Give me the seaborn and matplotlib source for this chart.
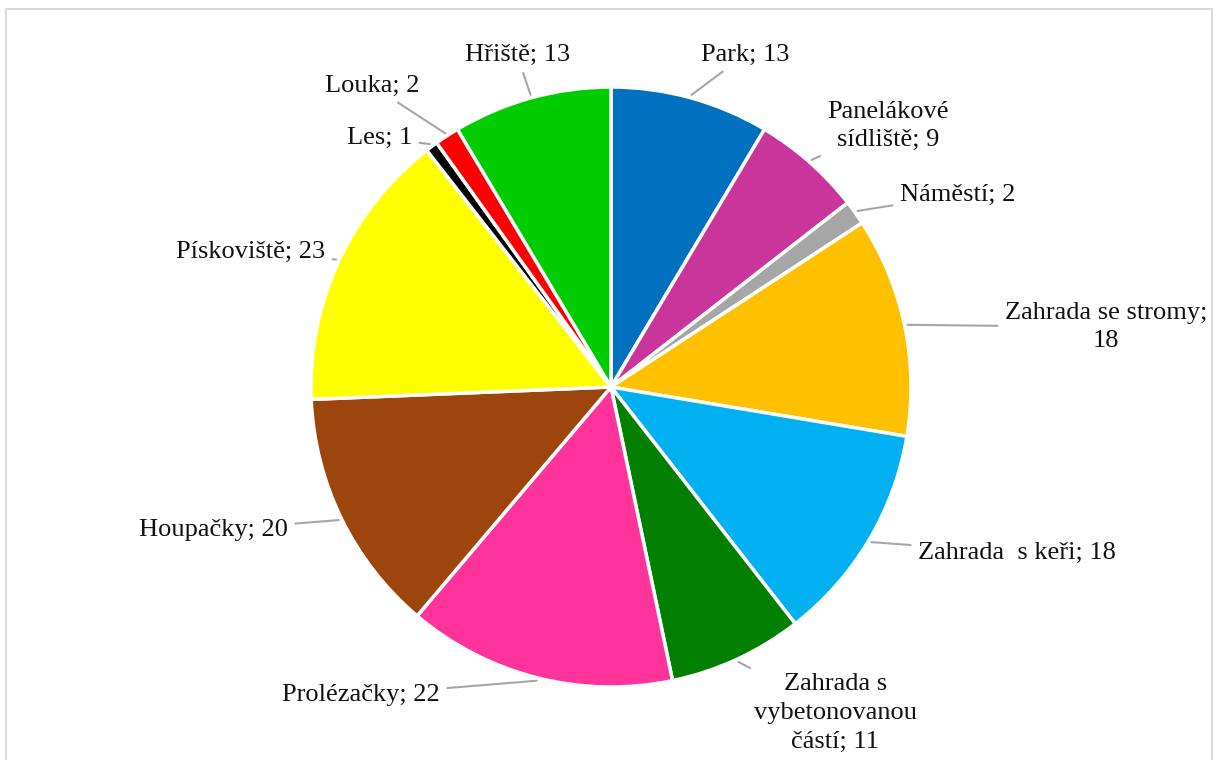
import numpy as np
import matplotlib
matplotlib.use("Agg")
import matplotlib.pyplot as plt
import matplotlib.patches as mpatches
import seaborn as sns

# data
labels = ["Park", "Panelákové\nsídliště", "Náměstí", "Zahrada se stromy;\n", "Zahrada  s keři",
          "Zahrada s\nvybetonovanou\nčástí", "Prolézačky", "Houpačky", "Pískoviště",
          "Les", "Louka", "Hřiště"]
values = [13, 9, 2, 18, 18, 11, 22, 20, 23, 1, 2, 13]
colors = ["#0070C0", "#C9359A", "#A6A6A6", "#FFC000", "#00B0F0", "#007F00",
          "#FF3399", "#9C460E", "#FFFF00", "#000000", "#FF0000", "#00CC00"]

# label placement (pie radius = 1), horizontal alignment
label_pos = [(0.30, 1.107), (0.923, 0.87), (0.963, 0.64), (1.65, 0.20), (1.023, -0.553),
             (0.747, -1.087), (-0.57, -1.027), (-1.077, -0.477), (-0.953, 0.45),
             (-0.663, 0.83), (-0.637, 1.003), (-0.313, 1.107)]
label_ha = ["left", "center", "left", "center", "left", "center", "right", "right", "right",
            "right", "right", "center"]

sns.set_style("white")
plt.rcParams["font.family"] = ["Liberation Serif", "DejaVu Serif"]

W, H = 1216, 760
fig = plt.figure(figsize=(W / 100, H / 100), dpi=100)
cx, cy, r = 611, 387, 300
ax = fig.add_axes([(cx - r) / W, (H - cy - r) / H, 2 * r / W, 2 * r / H])

wedges, _ = ax.pie(values, colors=colors, startangle=90, counterclock=False, radius=1,
                   wedgeprops=dict(edgecolor="white", linewidth=2.5))
ax.set_xlim(-1, 1)
ax.set_ylim(-1, 1)
ax.set_aspect("equal")
ax.axis("off")

for w, lab, v, pos, ha in zip(wedges, labels, values, label_pos, label_ha):
    ang = np.deg2rad((w.theta1 + w.theta2) / 2)
    x0, y0 = np.cos(ang), np.sin(ang)
    if lab.endswith(";\n"):
        txt = f"{lab}{v}"
    else:
        txt = f"{lab}; {v}"
    ax.annotate(txt, xy=(x0 * 1.01, y0 * 1.01), xytext=pos, ha=ha, va="center",
                fontsize=19, color="#111111", linespacing=1.4, annotation_clip=False,
                arrowprops=dict(arrowstyle="-", color="#A6A6A6", lw=1.5,
                                shrinkA=3, shrinkB=0))

# outer chart border
fig.patches.append(mpatches.Rectangle((6 / W, -0.01), (1212 - 6) / W, (H - 9) / H + 0.01,
                                      transform=fig.transFigure, fill=False,
                                      edgecolor="#D9D9D9", linewidth=1.5))

fig.savefig("out.png", dpi=100, facecolor="white")
